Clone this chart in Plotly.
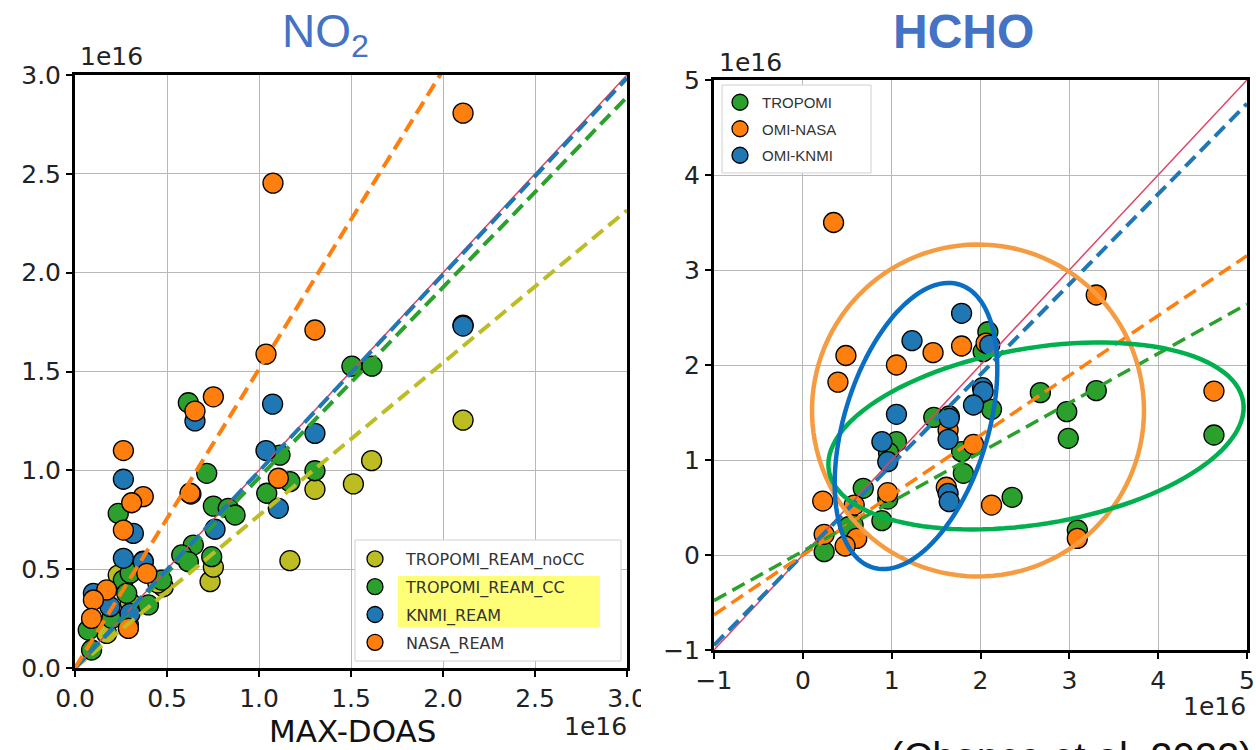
import numpy as np
import plotly.graph_objects as go

W, H = 1256, 750

# ---------------- NO2 panel (column densities in 1e16 molec/cm2) ----------------
no2_nocc_x = [2.109, 1.612, 1.513, 1.304, 1.168, 0.734, 0.752, 0.235, 0.48, 0.172, 0.63, 0.29, 0.30, 0.45]
no2_nocc_y = [1.254, 1.049, 0.931, 0.904, 0.543, 0.437, 0.51, 0.47, 0.411, 0.175, 0.88, 0.22, 0.33, 0.43]

no2_cc_x = [2.109, 1.505, 1.614, 0.616, 1.114, 1.304, 0.716, 1.168, 1.042, 0.752, 0.833, 0.87, 0.235,
            0.643, 0.58, 0.743, 0.616, 0.371, 0.263, 0.471, 0.281, 0.399, 0.072, 0.09, 0.20, 0.30]
no2_cc_y = [1.735, 1.527, 1.527, 1.342, 1.077, 0.998, 0.985, 0.943, 0.884, 0.819, 0.808, 0.774, 0.782,
            0.622, 0.572, 0.563, 0.538, 0.54, 0.445, 0.445, 0.378, 0.319, 0.192, 0.091, 0.25, 0.48]

no2_knmi_x = [2.109, 1.074, 0.652, 1.304, 1.038, 0.263, 1.105, 0.317, 0.761, 0.263, 0.371, 0.10, 0.19, 0.299]
no2_knmi_y = [1.73, 1.335, 1.25, 1.187, 1.10, 0.955, 0.808, 0.681, 0.702, 0.555, 0.538, 0.378, 0.31, 0.276]

no2_nasa_x = [2.109, 1.076, 1.304, 1.038, 0.752, 0.652, 0.263, 1.105, 0.625, 0.371, 0.308, 0.263,
              0.39, 0.172, 0.10, 0.09, 0.29]
no2_nasa_y = [2.807, 2.453, 1.71, 1.588, 1.372, 1.30, 1.10, 0.96, 0.884, 0.867, 0.836, 0.698,
              0.479, 0.395, 0.344, 0.251, 0.20]

# fitted slopes (through origin)
no2_slopes = {"noCC": 0.772, "CC": 0.963, "KNMI": 0.995, "NASA": 1.512}

# ---------------- HCHO panel ----------------
hcho_trop_x = [2.083, 2.03, 2.674, 3.303, 2.971, 2.988, 4.628, 2.124, 1.474, 1.054, 1.787, 1.807, 0.965,
               0.68, 0.956, 2.356, 0.89, 0.566, 0.516, 0.24, 3.09, 1.648]
hcho_trop_y = [2.35, 2.14, 1.709, 1.73, 1.509, 1.228, 1.263, 1.533, 1.449, 1.193, 1.088, 0.86, 1.077,
               0.702, 0.589, 0.607, 0.361, 0.316, 0.298, 0.035, 0.263, 1.463]

hcho_nasa_x = [0.346, 0.485, 0.395, 1.054, 1.466, 1.787, 2.063, 3.303, 4.628, 1.921, 1.635, 0.956,
               1.615, 2.124, 0.224, 0.578, 0.24, 0.607, 0.476, 3.09]
hcho_nasa_y = [3.50, 2.10, 1.82, 2.0, 2.13, 2.20, 2.23, 2.737, 1.726, 1.165, 1.316, 0.656,
               0.713, 0.526, 0.568, 0.526, 0.218, 0.175, 0.095, 0.175]

hcho_knmi_x = [1.787, 1.229, 2.104, 2.023, 2.03, 1.921, 1.054, 1.648, 1.635, 0.89, 0.956, 1.635, 1.648]
hcho_knmi_y = [2.544, 2.256, 2.21, 1.761, 1.72, 1.579, 1.481, 1.439, 1.218, 1.193, 0.982, 0.649, 0.561]

# fitted lines: (slope, intercept)
hcho_fits = {"TROPOMI": (0.52, 0.04), "OMI-NASA": (0.63, 0.0), "OMI-KNMI": (0.95, 0.0)}

OLIVE, GREEN, BLUE, ORANGE = "#bcbd22", "#2ca02c", "#1f77b4", "#ff7f0e"
ONE2ONE = "#dd4466"
TICK_FONT = dict(family="DejaVu Sans", size=25, color="#222222")


def px(x):
    return x / W


def py(y):
    return 1 - y / H


fig = go.Figure()


def scatter(x, y, color, name, xa, ya, legend):
    fig.add_trace(go.Scatter(
        x=x, y=y, mode="markers", name=name, xaxis=xa, yaxis=ya, legend=legend,
        legendgroup=name,
        marker=dict(size=20, color=color, line=dict(color="black", width=1.3)),
    ))


def fit_line(x0, x1, slope, icpt, color, xa, ya, width=4):
    xs = np.array([x0, x1])
    fig.add_trace(go.Scatter(
        x=xs, y=slope * xs + icpt, mode="lines", showlegend=False, xaxis=xa, yaxis=ya,
        line=dict(color=color, width=width, dash="14px,7px"),
    ))


# NO2 scatter
scatter(no2_nocc_x, no2_nocc_y, OLIVE, "TROPOMI_REAM_noCC", "x", "y", "legend")
scatter(no2_cc_x, no2_cc_y, GREEN, "TROPOMI_REAM_CC", "x", "y", "legend")
scatter(no2_knmi_x, no2_knmi_y, BLUE, "KNMI_REAM", "x", "y", "legend")
scatter(no2_nasa_x, no2_nasa_y, ORANGE, "NASA_REAM", "x", "y", "legend")

fig.add_trace(go.Scatter(x=[0, 3], y=[0, 3], mode="lines", showlegend=False,
                         line=dict(color=ONE2ONE, width=1.5), xaxis="x", yaxis="y"))
fit_line(0, 3, no2_slopes["noCC"], 0, OLIVE, "x", "y")
fit_line(0, 3, no2_slopes["CC"], 0, GREEN, "x", "y")
fit_line(0, 3, no2_slopes["KNMI"], 0, BLUE, "x", "y")
fit_line(0, 3, no2_slopes["NASA"], 0, ORANGE, "x", "y")

# HCHO scatter
scatter(hcho_trop_x, hcho_trop_y, GREEN, "TROPOMI", "x2", "y2", "legend2")
scatter(hcho_nasa_x, hcho_nasa_y, ORANGE, "OMI-NASA", "x2", "y2", "legend2")
scatter(hcho_knmi_x, hcho_knmi_y, BLUE, "OMI-KNMI", "x2", "y2", "legend2")

fig.add_trace(go.Scatter(x=[-1, 5], y=[-1, 5], mode="lines", showlegend=False,
                         line=dict(color=ONE2ONE, width=1.5), xaxis="x2", yaxis="y2"))
fit_line(-1, 5, *hcho_fits["OMI-KNMI"], BLUE, "x2", "y2")
fit_line(-1, 5, *hcho_fits["OMI-NASA"], ORANGE, "x2", "y2", width=3.5)
fit_line(-1, 5, *hcho_fits["TROPOMI"], GREEN, "x2", "y2", width=3.5)

axis_common = dict(showgrid=True, gridcolor="#b8b8b8", gridwidth=1, zeroline=False,
                   showline=True, linecolor="black", linewidth=3, mirror=True,
                   ticks="outside", ticklen=6, tickwidth=1.5, tickcolor="black",
                   tickfont=TICK_FONT, automargin=False)

no2_ticks = [0, 0.5, 1.0, 1.5, 2.0, 2.5, 3.0]
no2_ticktext = ["0.0", "0.5", "1.0", "1.5", "2.0", "2.5", "3.0"]
hcho_ticks = [-1, 0, 1, 2, 3, 4, 5]
hcho_ticktext = ["\u22121", "0", "1", "2", "3", "4", "5"]

fig.update_layout(
    width=W, height=H, autosize=False,
    margin=dict(l=0, r=0, t=0, b=0, autoexpand=False),
    paper_bgcolor="white", plot_bgcolor="white",
    xaxis=dict(domain=[px(75), px(627)], range=[0, 3], tickvals=no2_ticks, ticktext=no2_ticktext,
               anchor="y", **axis_common),
    yaxis=dict(domain=[py(668), py(75)], range=[0, 3], tickvals=no2_ticks, ticktext=no2_ticktext,
               anchor="x", **axis_common),
    xaxis2=dict(domain=[px(714), px(1247)], range=[-1, 5], tickvals=hcho_ticks, ticktext=hcho_ticktext,
                anchor="y2", **axis_common),
    yaxis2=dict(domain=[py(650), py(80)], range=[-1, 5], tickvals=hcho_ticks, ticktext=hcho_ticktext,
                anchor="x2", **axis_common),
    legend=dict(x=px(344), y=py(542), xanchor="left", yanchor="top",
                bgcolor="rgba(0,0,0,0)", borderwidth=0, tracegroupgap=4, itemwidth=52,
                font=dict(family="DejaVu Sans", size=16, color="#333333")),
    legend2=dict(x=px(718), y=py(86), xanchor="left", yanchor="top",
                 bgcolor="rgba(0,0,0,0)", borderwidth=0, tracegroupgap=4, itemwidth=34,
                 font=dict(family="Liberation Sans Narrow, Liberation Sans", size=15, color="#333333")),
    showlegend=True,
)

shapes = []
# legend frames
shapes.append(dict(type="rect", xref="paper", yref="paper", x0=px(355), x1=px(621), y0=py(661), y1=py(540),
                   fillcolor="white", line=dict(color="#d0d0d0", width=1), layer="above"))
shapes.append(dict(type="rect", xref="paper", yref="paper", x0=px(398), x1=px(600), y0=py(627), y1=py(576),
                   fillcolor="#ffff55", opacity=0.8, line=dict(width=0), layer="above"))
shapes.append(dict(type="rect", xref="paper", yref="paper", x0=px(722), x1=px(871), y0=py(173), y1=py(85),
                   fillcolor="white", line=dict(color="#d0d0d0", width=1), layer="above"))
# the left panel's last x tick label runs into the right panel
shapes.append(dict(type="rect", xref="paper", yref="paper", x0=px(641), x1=px(688), y0=py(708), y1=py(676),
                   fillcolor="white", line=dict(width=0), layer="above"))


def ellipse_path(cx, cy, a, b, phi_deg, n=120):
    phi = np.radians(phi_deg)
    t = np.linspace(0, 2 * np.pi, n)
    X = cx + a * np.cos(t) * np.cos(phi) - b * np.sin(t) * np.sin(phi)
    Y = cy - (a * np.cos(t) * np.sin(phi) + b * np.sin(t) * np.cos(phi))
    pts = [f"{px(u):.5f},{py(v):.5f}" for u, v in zip(X, Y)]
    return "M " + " L ".join(pts) + " Z"


# groupings highlighted on the HCHO panel
shapes.append(dict(type="path", xref="paper", yref="paper", path=ellipse_path(978, 410.5, 166, 166, 0),
                   line=dict(color="#f59c42", width=4.5), layer="above"))
shapes.append(dict(type="path", xref="paper", yref="paper", path=ellipse_path(1036, 436, 210, 88, 9.5),
                   line=dict(color="#00b04f", width=4.5), layer="above"))
shapes.append(dict(type="path", xref="paper", yref="paper", path=ellipse_path(916, 426, 148, 72, 73),
                   line=dict(color="#0a6fc2", width=4.5), layer="above"))
fig.update_layout(shapes=shapes)

ann = [
    dict(text="NO<sub>2</sub>", x=px(325), y=py(35), font=dict(family="Liberation Sans", size=46, color="#4472c4")),
    dict(text="<b>HCHO</b>", x=px(963), y=py(32), font=dict(family="Liberation Sans", size=48, color="#4472c4")),
    dict(text="1e16", x=px(112), y=py(57), font=TICK_FONT),
    dict(text="1e16", x=px(751), y=py(62), font=TICK_FONT),
    dict(text="1e16", x=px(595), y=py(726), font=TICK_FONT),
    dict(text="1e16", x=px(1214), y=py(706), font=TICK_FONT),
    dict(text="MAX-DOAS", x=px(352), y=py(731), font=dict(family="DejaVu Sans", size=31, color="#111111")),
    dict(text="(Chance et al. 2022)", x=px(888), y=py(733), xanchor="left", yanchor="top",
         font=dict(family="Liberation Sans", size=40, color="#111111")),
]
for a in ann:
    a.setdefault("xanchor", "center")
    a.setdefault("yanchor", "middle")
    fig.add_annotation(xref="paper", yref="paper", showarrow=False, **a)

fig.write_html("out.html")
